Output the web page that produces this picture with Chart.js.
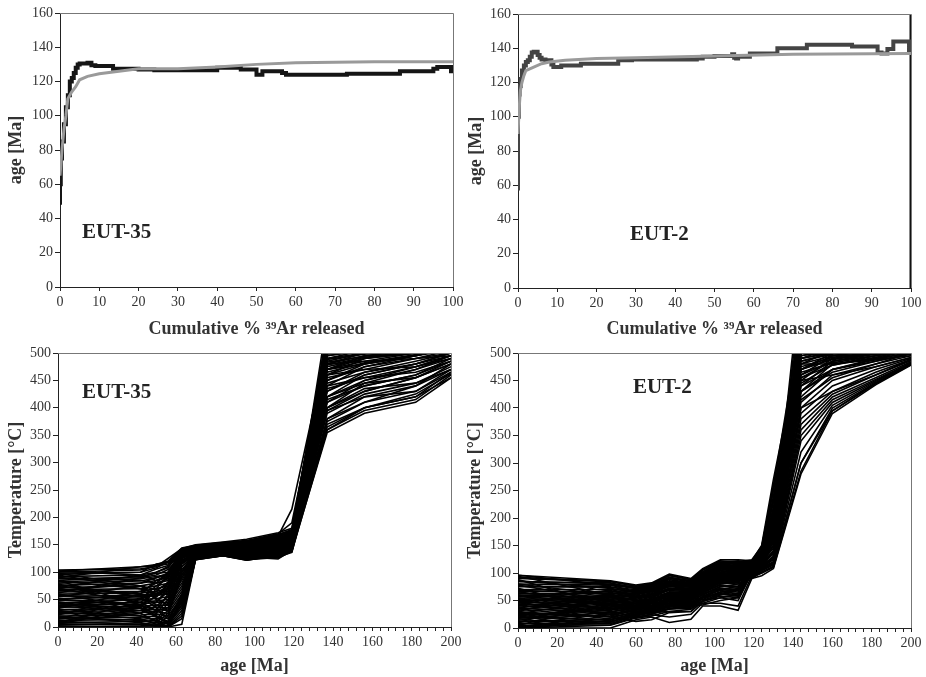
<!DOCTYPE html>
<html>
<head>
<meta charset="utf-8">
<script src="https://cdn.jsdelivr.net/npm/chart.js@4.4.1/dist/chart.umd.min.js"></script>
<style>
  body { margin: 0; background: #fff; width: 926px; height: 677px; position: relative; overflow: hidden; }
  canvas { position: absolute; }
</style>
</head>
<body>
<canvas id="spectrum35" width="470" height="340" style="left:0;top:0"></canvas>
<canvas id="spectrum2" width="463" height="340" style="left:463px;top:0"></canvas>
<canvas id="paths35" width="470" height="337" style="left:0;top:340px"></canvas>
<canvas id="paths2" width="463" height="337" style="left:463px;top:340px"></canvas>
<script>
// age spectra, EUT-35 (measured steps + model curve)
const eut35Cum = [0, 0.2, 0.5, 1, 1.5, 2, 2.5, 3, 3.5, 4, 4.5, 5, 7, 8, 9, 10, 13.5, 14, 20, 24, 40, 43, 46, 50, 51.5, 52.5, 56.5, 57.5, 62, 73, 86.5, 87, 95, 96, 99.5, 100];
const eut35Age = [48, 60, 75, 85, 95, 105, 112, 120, 122, 125, 128, 130, 130.5, 131, 129.5, 129, 129, 127.5, 127.5, 127, 126.5, 128, 128, 127, 124, 126, 126, 125, 124, 124, 124.5, 126, 126, 127.5, 128.5, 126];
const eut35ModelCum = [0, 0.5, 1, 1.5, 2, 3, 4, 5, 7, 10, 15, 20, 30, 40, 50, 60, 80, 100];
const eut35ModelAge = [65, 80, 92, 100, 110, 114, 117, 121, 123, 124.5, 126, 127.5, 127.5, 128.5, 130, 131, 131.5, 131.5];

// age spectra, EUT-2
const eut2Cum = [0, 0.2, 0.4, 0.7, 1, 1.5, 2, 2.5, 3, 3.5, 4, 5, 5.5, 6, 7, 8.5, 9, 11, 16, 25.5, 29, 45.5, 47, 50, 51, 54.5, 55, 55.5, 56, 59, 66, 73.5, 85, 91.5, 92.5, 94, 95.5, 97.5, 99.5, 100];
const eut2Age = [57, 100, 113, 118, 122, 127, 130, 132, 133, 135, 137.5, 138, 136, 134.5, 133.5, 133, 130.5, 129, 130, 131, 133, 133.5, 134, 135, 135.5, 135.5, 136.5, 134.5, 134, 135, 137, 140, 142, 141, 137.5, 137, 139.5, 144, 144, 139];
const eut2ModelCum = [0, 0.3, 0.6, 1, 1.5, 2, 3, 4, 6, 8, 12, 20, 30, 50, 70, 100];
const eut2ModelAge = [90, 105, 115, 120, 124, 127, 128, 129, 131, 132, 133, 134, 134.5, 135.5, 136.5, 137];
const eut2EndCum = [100, 100];
const eut2EndAge = [0, 160];

// thermal histories, EUT-35: temperatures at these ages
const eut35Nodes = [0, 42, 50, 56, 63, 70, 84, 96, 112, 119, 137, 156, 182, 200];
const eut35Paths = [
  [104,106,110,125,143,150,155,160,172,180,520,540,560,580],
  [100,104,112,120,140,148,153,158,170,190,500,510,530,540],
  [96,100,108,118,138,146,150,155,165,175,470,490,505,520],
  [92,95,100,110,135,145,148,152,160,170,450,475,495,510],
  [88,90,95,105,130,142,146,150,158,165,430,460,480,500],
  [85,92,98,100,128,140,144,148,155,160,420,450,470,495],
  [80,84,90,95,125,138,142,146,152,158,410,440,460,490],
  [76,80,85,90,122,136,140,140,150,155,400,430,455,485],
  [72,75,80,85,118,134,138,136,148,150,395,420,440,480],
  [68,70,75,80,115,132,136,134,145,148,380,410,430,470],
  [64,65,70,75,110,130,135,130,142,145,370,400,420,465],
  [60,62,65,70,105,128,134,128,140,143,360,395,415,460],
  [56,58,60,65,100,126,132,125,136,140,355,390,410,455],
  [52,55,58,60,95,125,130,122,132,137,360,400,420,455],
  [48,50,52,55,90,124,130,124,128,136,380,420,430,465],
  [44,45,48,50,85,126,132,126,126,138,400,435,445,470],
  [40,42,45,45,80,128,134,128,124,140,420,445,455,480],
  [36,38,40,40,75,130,136,130,128,142,440,455,465,485],
  [32,34,36,35,70,132,138,132,132,144,460,470,475,490],
  [28,30,32,30,65,134,140,134,136,146,480,485,490,495],
  [24,26,28,25,60,136,142,136,140,148,500,500,500,500],
  [20,22,24,20,55,138,144,138,144,150,520,510,505,505],
  [16,18,20,15,50,140,146,140,146,152,540,520,510,510],
  [12,14,16,10,45,142,148,142,148,154,560,530,520,515],
  [8,10,12,5,40,126,136,126,150,156,480,500,510,520],
  [4,6,8,2,30,124,132,124,140,160,460,490,500,505],
  [0,2,4,0,20,123,130,122,130,150,440,475,490,500],
  [0,0,0,0,55,125,133,128,128,146,420,460,480,495],
  [2,0,0,0,50,127,135,130,132,148,400,445,470,490],
  [10,5,2,20,100,137,145,140,150,160,410,450,475,495],
  [30,20,12,45,120,139,147,144,152,165,430,465,485,500],
  [50,40,30,60,125,141,149,146,156,168,450,480,495,510],
  [70,60,55,80,135,143,150,150,160,170,470,495,505,515],
  [90,85,80,100,140,145,151,152,164,175,490,505,510,520],
  [98,100,115,118,142,147,152,154,166,215,510,520,525,530],
  [102,110,114,120,144,149,154,156,168,178,530,530,530,530],
  [58,50,45,70,128,135,143,142,150,158,395,430,455,480],
  [42,35,25,50,118,131,139,136,144,152,375,410,440,470],
  [18,12,8,25,90,129,137,132,138,150,365,400,425,462],
  [6,4,3,10,60,127,135,129,134,147,390,425,445,475],
  [84,70,60,75,132,144,150,150,158,166,455,470,490,505],
  [66,80,90,98,138,146,152,153,162,172,475,490,500,510],
  [26,40,55,70,130,140,146,147,154,162,445,465,480,500],
  [74,60,40,30,100,133,141,139,147,155,435,455,475,495],
  [38,30,20,5,35,125,133,127,133,145,415,440,460,485],
  [95,70,50,40,110,133,140,138,146,156,500,515,520,525],
  [15,50,75,90,132,141,148,150,158,166,510,525,530,535],
  [85,40,20,10,45,124,131,123,131,142,505,510,515,520],
  [5,35,70,95,138,144,150,152,162,170,520,525,525,530],
  [62,90,100,108,141,147,153,155,165,172,490,500,515,525],
  [22,60,85,95,136,142,149,149,156,164,515,520,520,520],
  [78,55,35,15,55,127,134,130,137,149,525,530,530,530],
  [46,25,10,0,25,124,132,125,131,143,505,505,505,510],
  [102,95,85,92,139,146,152,151,160,168,540,540,540,540],
  [34,65,80,88,134,143,150,148,157,167,485,500,510,520],
  [55,75,68,78,131,139,146,145,153,161,498,510,515,520],
  [10,25,38,55,115,135,142,140,149,158,470,485,500,515],
  [70,45,30,35,105,130,138,133,141,151,488,498,508,518],
  [90,110,112,115,143,148,153,157,169,176,535,545,550,550],
  [28,15,5,0,15,123,131,124,129,141,500,500,500,500],
  [50,58,62,68,126,137,145,143,151,159,460,480,495,510],
  [82,88,92,96,137,145,151,153,161,169,505,510,515,520],
  [14,30,45,65,128,138,146,146,154,163,480,495,505,515],
  [60,35,18,8,40,126,133,128,135,146,495,505,510,515],
  [38,52,58,72,127,136,144,141,150,157,465,482,497,512],
  [98,75,58,62,121,134,141,137,145,153,478,492,502,512],
  [20,8,2,0,5,123,130,123,127,139,470,480,495,505],
  [72,95,106,112,142,148,153,156,167,174,520,525,530,535],
  [44,20,12,30,95,132,139,135,143,150,483,494,500,510],
  [8,45,65,82,133,140,147,146,155,162,495,505,512,518]
];

// thermal histories, EUT-2
const eut2Nodes = [0, 47, 60, 68, 77, 88, 94, 103, 112, 119, 124, 130, 144, 160, 182, 200];
const eut2Paths = [
  [96,86,78,82,98,90,108,124,124,122,150,270,520,530,540,545],
  [90,84,76,80,95,88,105,120,122,120,145,260,510,520,530,540],
  [85,80,74,78,92,86,100,118,120,118,140,250,500,515,525,535],
  [80,78,72,76,90,84,98,115,118,116,135,240,490,510,520,530],
  [75,74,70,74,88,82,95,112,116,114,132,230,480,505,515,525],
  [70,70,68,72,85,80,92,110,114,112,130,220,470,500,510,520],
  [66,66,65,70,82,78,90,108,112,110,128,210,460,495,505,515],
  [62,62,62,68,80,76,88,105,110,108,126,200,450,490,500,510],
  [58,58,60,66,78,74,86,102,108,106,124,190,440,485,495,505],
  [54,55,58,64,75,72,84,100,106,104,122,180,430,480,490,500],
  [50,52,56,62,72,70,82,98,104,102,120,170,420,470,485,498],
  [46,50,54,60,70,68,80,96,102,100,118,160,410,460,480,495],
  [42,48,52,58,68,66,78,94,100,98,116,150,400,450,475,492],
  [38,46,50,56,65,64,76,92,98,96,114,140,390,440,470,490],
  [34,44,48,54,62,62,74,90,96,95,112,130,380,430,465,488],
  [30,42,46,52,60,60,72,88,94,94,110,125,370,425,460,486],
  [26,40,44,50,58,58,70,86,92,93,108,120,360,420,455,484],
  [22,38,42,48,56,56,68,84,90,92,106,118,350,415,452,482],
  [18,36,40,46,54,54,66,82,88,91,104,115,340,410,450,481],
  [14,34,38,44,52,52,64,80,86,90,102,112,300,400,446,480],
  [10,30,36,42,50,50,60,75,80,92,100,110,285,395,444,479],
  [6,26,34,40,48,48,56,70,76,95,105,115,320,405,448,482],
  [2,22,32,38,46,46,52,65,72,98,108,120,400,430,460,488],
  [0,18,30,36,44,44,48,60,68,100,110,125,450,460,475,492],
  [0,14,28,34,42,42,45,55,60,102,112,130,480,480,488,495],
  [0,10,26,32,40,40,42,50,55,104,115,135,500,495,498,500],
  [0,0,15,20,10,16,40,40,32,90,95,108,280,390,442,478],
  [4,6,20,24,20,25,45,45,40,95,100,112,300,395,445,480],
  [8,8,22,28,30,30,50,55,50,100,110,118,520,510,505,505],
  [12,12,24,30,35,35,55,62,58,105,118,125,540,520,510,510],
  [20,15,26,30,38,40,58,68,65,108,122,135,560,530,515,515],
  [28,20,28,32,40,44,62,72,70,110,125,145,580,540,520,520],
  [36,28,30,34,45,50,66,78,75,112,128,155,600,550,525,525],
  [44,36,34,36,50,55,70,82,80,114,130,165,620,560,530,530],
  [52,45,38,40,55,60,75,88,85,115,132,175,640,570,535,535],
  [60,55,45,48,60,65,80,95,92,116,134,185,560,540,520,520],
  [68,65,55,58,70,72,88,104,100,118,136,200,520,520,515,515],
  [76,75,65,68,80,80,95,112,108,120,138,215,500,510,510,510],
  [84,82,72,75,90,86,102,120,116,122,142,235,540,530,520,520],
  [92,85,76,80,96,88,106,122,120,124,148,255,560,540,525,525],
  [48,60,70,74,86,82,98,116,114,115,130,200,470,495,505,515],
  [40,55,64,68,80,78,94,110,108,112,126,190,455,485,500,510],
  [16,24,35,45,60,62,80,96,95,105,120,160,430,470,490,505],
  [64,50,40,44,50,52,68,84,82,108,124,150,415,455,480,500],
  [24,32,42,50,66,64,84,100,98,110,125,170,445,478,495,508],
  [94,60,40,45,62,60,80,98,96,110,126,180,500,510,515,520],
  [10,55,72,78,92,85,102,118,118,118,140,230,520,525,525,525],
  [72,30,20,25,35,38,55,70,68,100,112,130,470,490,500,510],
  [30,70,60,55,70,68,85,100,100,112,128,175,490,500,510,515],
  [88,40,30,35,48,50,64,78,76,106,120,145,505,510,512,515],
  [5,45,55,62,76,74,90,106,104,114,130,190,510,515,518,520],
  [60,20,12,15,28,30,48,58,55,100,110,120,430,465,485,500],
  [40,80,74,72,84,80,96,112,110,116,132,210,530,530,525,525],
  [80,60,50,52,64,66,82,96,94,110,126,165,495,505,510,515],
  [18,28,40,48,60,58,74,92,90,108,122,150,460,485,498,508],
  [50,35,28,30,42,46,62,76,74,104,118,140,480,495,505,512],
  [0,5,18,26,34,38,54,66,62,102,114,128,465,482,495,505],
  [96,78,66,70,84,82,98,114,112,118,136,205,515,520,520,520],
  [26,52,62,66,78,76,92,108,106,114,130,195,500,510,515,518],
  [56,68,58,60,72,70,86,104,102,112,128,185,485,500,508,515],
  [12,16,24,28,36,40,56,64,60,98,108,116,440,470,488,502],
  [66,42,34,38,52,54,70,86,84,108,124,160,475,492,502,512],
  [36,62,68,70,82,80,94,110,110,114,132,200,520,522,522,522],
  [86,72,64,66,76,78,92,108,106,116,134,195,505,512,515,518],
  [20,38,46,52,64,64,78,94,92,110,126,165,490,502,508,515],
  [46,25,18,22,30,34,50,62,58,100,112,125,455,478,492,506],
  [78,50,44,48,58,60,76,90,88,112,128,170,510,515,518,520],
  [3,12,22,30,40,42,58,72,70,104,118,138,470,488,500,510],
  [58,45,36,40,56,56,72,88,86,106,122,155,485,498,506,514],
  [32,58,50,46,60,62,78,92,90,108,124,160,495,505,512,516]
];

const serif = "'Liberation Serif', 'Times New Roman', serif";
Chart.defaults.font.family = serif;
Chart.defaults.color = '#333';
Chart.defaults.animation = false;

function xy(xs, ys) {
  return xs.map((x, i) => ({x: x, y: ys[i]}));
}

// top and right edge of the plot box + sample name
function framePlugin(name, nameX, nameY) {
  return {
    id: 'frame',
    afterDatasetsDraw(chart) {
      const a = chart.chartArea, ctx = chart.ctx;
      ctx.save();
      ctx.strokeStyle = '#777';
      ctx.lineWidth = 1;
      ctx.beginPath();
      ctx.moveTo(a.left, a.top + 0.5);
      ctx.lineTo(a.right + 0.5, a.top + 0.5);
      ctx.lineTo(a.right + 0.5, a.bottom);
      ctx.stroke();
      ctx.fillStyle = '#222';
      ctx.font = 'bold 21px ' + serif;
      ctx.textBaseline = 'middle';
      ctx.fillText(name, chart.scales.x.getPixelForValue(nameX), chart.scales.y.getPixelForValue(nameY));
      ctx.restore();
    }
  };
}

function axes(opt) {
  return {
    x: {
      type: 'linear', min: opt.xMin, max: opt.xMax,
      border: {color: '#222', width: 1},
      grid: {drawOnChartArea: false, tickLength: 4, color: '#222'},
      ticks: {
        stepSize: opt.xStep, autoSkip: false, maxRotation: 0, padding: 3,
        font: {size: 14}, color: '#333',
        callback: v => (v % opt.xLabelEvery === 0 ? v : '')
      },
      title: {display: true, text: opt.xTitle, font: {size: 18, weight: 'bold'}, color: '#333', padding: {top: 0, bottom: 0}},
      afterFit: s => { s.height = opt.xHeight; }
    },
    y: {
      min: opt.yMin, max: opt.yMax,
      border: {color: '#222', width: 1},
      grid: {drawOnChartArea: false, tickLength: 5, color: '#222'},
      ticks: {stepSize: opt.yStep, padding: 2, font: {size: 14}, color: '#333'},
      title: {display: true, text: opt.yTitle, font: {size: 18, weight: 'bold'}, color: '#333', padding: {top: opt.yTitlePad, bottom: 0}},
      afterFit: s => { s.width = opt.yWidth; }
    }
  };
}

function baseOptions(opt) {
  return {
    responsive: false,
    animation: false,
    layout: {padding: opt.padding},
    plugins: {legend: {display: false}, tooltip: {enabled: false}},
    elements: {point: {radius: 0}, line: {tension: 0}},
    scales: axes(opt)
  };
}

// ---- top left ----
new Chart(document.getElementById('spectrum35'), {
  type: 'line',
  data: {
    datasets: [
      {data: xy(eut35ModelCum, eut35ModelAge), borderColor: '#9a9a9a', borderWidth: 3},
      {data: xy(eut35Cum, eut35Age), borderColor: '#151515', borderWidth: 4, stepped: 'after'}
    ]
  },
  options: baseOptions({
    padding: {left: 0, top: 13, right: 17, bottom: 0},
    xMin: 0, xMax: 100, xStep: 10, xLabelEvery: 10, xHeight: 53,
    xTitle: 'Cumulative % \u00b3\u2079Ar released',
    yMin: 0, yMax: 160, yStep: 20, yWidth: 60, yTitle: 'age [Ma]', yTitlePad: 6
  }),
  plugins: [framePlugin('EUT-35', 5.6, 31.5)]
});

// ---- top right ----
new Chart(document.getElementById('spectrum2'), {
  type: 'line',
  data: {
    datasets: [
      {data: xy(eut2ModelCum, eut2ModelAge), borderColor: '#9a9a9a', borderWidth: 3},
      {data: xy(eut2Cum, eut2Age), borderColor: '#444', borderWidth: 4, stepped: 'after'},
      {data: xy(eut2EndCum, eut2EndAge), borderColor: '#111', borderWidth: 3}
    ]
  },
  options: baseOptions({
    padding: {left: 0, top: 14, right: 15, bottom: 0},
    xMin: 0, xMax: 100, xStep: 10, xLabelEvery: 10, xHeight: 52,
    xTitle: 'Cumulative % \u00b3\u2079Ar released',
    yMin: 0, yMax: 160, yStep: 20, yWidth: 55, yTitle: 'age [Ma]', yTitlePad: 3
  }),
  plugins: [framePlugin('EUT-2', 28.5, 31)]
});

// ---- bottom left ----
new Chart(document.getElementById('paths35'), {
  type: 'line',
  data: {
    datasets: eut35Paths.map(p => ({data: xy(eut35Nodes, p), borderColor: '#000', borderWidth: 1.6}))
  },
  options: baseOptions({
    padding: {left: 0, top: 13, right: 19, bottom: 0},
    xMin: 0, xMax: 200, xStep: 4, xLabelEvery: 20, xHeight: 50,
    xTitle: 'age [Ma]',
    yMin: 0, yMax: 500, yStep: 50, yWidth: 58, yTitle: 'Temperature [\u00b0C]', yTitlePad: 6
  }),
  plugins: [framePlugin('EUT-35', 12.2, 427)]
});

// ---- bottom right ----
new Chart(document.getElementById('paths2'), {
  type: 'line',
  data: {
    datasets: eut2Paths.map(p => ({data: xy(eut2Nodes, p), borderColor: '#000', borderWidth: 1.6}))
  },
  options: baseOptions({
    padding: {left: 0, top: 13, right: 15, bottom: 0},
    xMin: 0, xMax: 200, xStep: 4, xLabelEvery: 20, xHeight: 49,
    xTitle: 'age [Ma]',
    yMin: 0, yMax: 500, yStep: 50, yWidth: 55, yTitle: 'Temperature [\u00b0C]', yTitlePad: 2
  }),
  plugins: [framePlugin('EUT-2', 58.5, 438)]
});
</script>
</body>
</html>
